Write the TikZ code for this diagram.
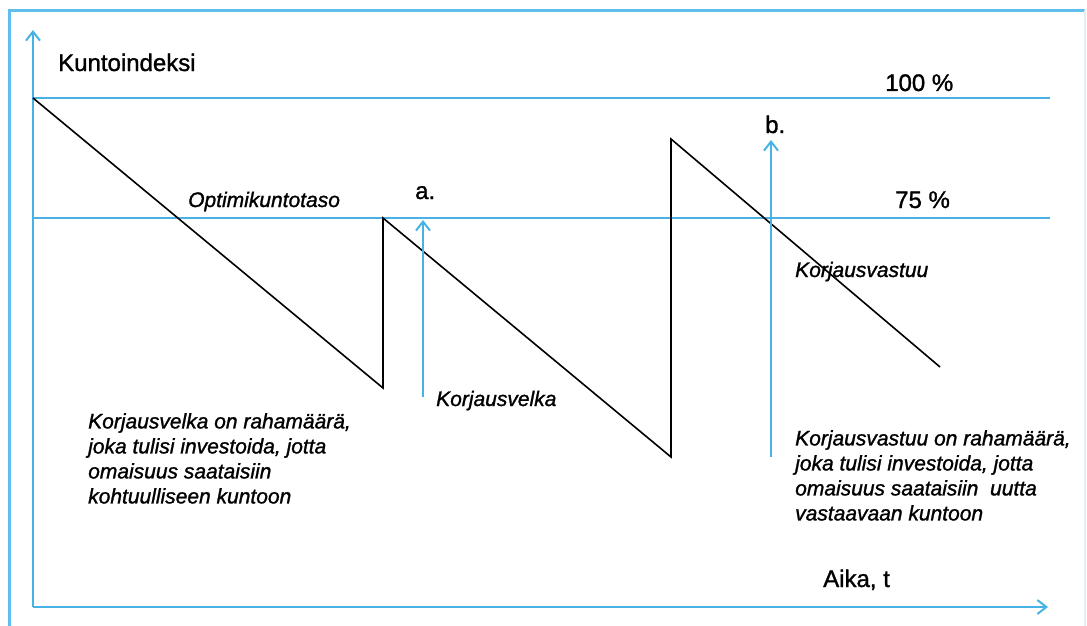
\documentclass[tikz,border=0pt]{standalone}
\usepackage{fontspec}
\setmainfont{Liberation Sans}[FakeBold=1.2]
\newfontfamily\heavyfont{Liberation Sans}[FakeBold=1.2,ItalicFeatures={FakeBold=1.2}]
\usetikzlibrary{arrows.meta}
\definecolor{axblue}{RGB}{72,178,228}
\definecolor{frameblue}{RGB}{95,190,235}
\definecolor{faint}{RGB}{225,238,246}
\tikzset{
  axis/.style={draw=axblue, line width=2.4pt, -{Straight Barb[length=9pt,width=14pt,line width=2pt]}},
  level/.style={draw=axblue, line width=2.4pt},
  curve/.style={draw=black, line width=1.6pt, line join=miter},
  lbl/.style={inner sep=0pt, anchor=base west, font=\heavyfont\fontsize{24}{28}\selectfont},
  ilbl/.style={inner sep=0pt, anchor=base west, font=\heavyfont\fontsize{21}{25}\selectfont\itshape},
  note/.style={inner sep=0pt, anchor=north west, align=left, font=\heavyfont\fontsize{21}{25}\selectfont\itshape}
}
\begin{document}
\begin{tikzpicture}[x=1pt,y=-1pt]
\useasboundingbox (0,0) rectangle (1087,626);
% outer frame
\draw[frameblue, line width=2.2pt] (9.5,626) -- (9.5,10.5) -- (1085,10.5);
\draw[faint, line width=1.5pt] (1085,10.5) -- (1085,626);
% axes
\coordinate (O) at (33,607);
\coordinate (Ytip) at (33,30);
\coordinate (Xtip) at (1048,607);
\draw[axis] (O) -- (Ytip);
\draw[axis] (O) -- (Xtip);
% level lines
\coordinate (L100a) at (33,98);
\coordinate (L100b) at (1050,98);
\coordinate (L75a) at (33,218);
\coordinate (L75b) at (1050,218);
\draw[level] (L100a) -- (L100b);
\draw[level] (L75a) -- (L75b);
% sawtooth
\coordinate (p0) at (33,98);
\coordinate (p1) at (383,388);
\coordinate (p2) at (383,218);
\coordinate (p3) at (671,457);
\coordinate (p4) at (671,139);
\coordinate (p5) at (940,367);
\draw[curve] (p0) -- (p1) -- (p2) -- (p3) -- (p4) -- (p5);
% arrows a and b
\coordinate (a0) at (423,397);
\coordinate (a1) at (423,220);
\coordinate (b0) at (771,457);
\coordinate (b1) at (771,140);
\draw[axis] (a0) -- (a1);
\draw[axis] (b0) -- (b1);
% labels
\node[lbl] (kunto) at (58,71) {Kuntoindeksi};
\node[lbl] (p100) at (885,91) {100 \%};
\node[lbl] (p75) at (895,208) {75 \%};
\node[lbl] (la) at (415,199) {a.};
\node[lbl] (lb) at (765,133) {b.};
\node[lbl] (aika) at (823,587) {Aika, t};
\node[ilbl] (opti) at (188,207) {Optimikuntotaso};
\node[ilbl] (kvelka) at (436,406) {Korjausvelka};
\node[ilbl] (kvastuu) at (795,277) {Korjausvastuu};
\node[note] (n1) at (88,413) {Korjausvelka on rahamäärä,\\joka tulisi investoida, jotta\\omaisuus saataisiin\\kohtuulliseen kuntoon};
\node[note] (n2) at (795,430) {Korjausvastuu on rahamäärä,\\joka tulisi investoida, jotta\\omaisuus saataisiin\ \ uutta\\vastaavaan kuntoon};
\end{tikzpicture}
\end{document}
